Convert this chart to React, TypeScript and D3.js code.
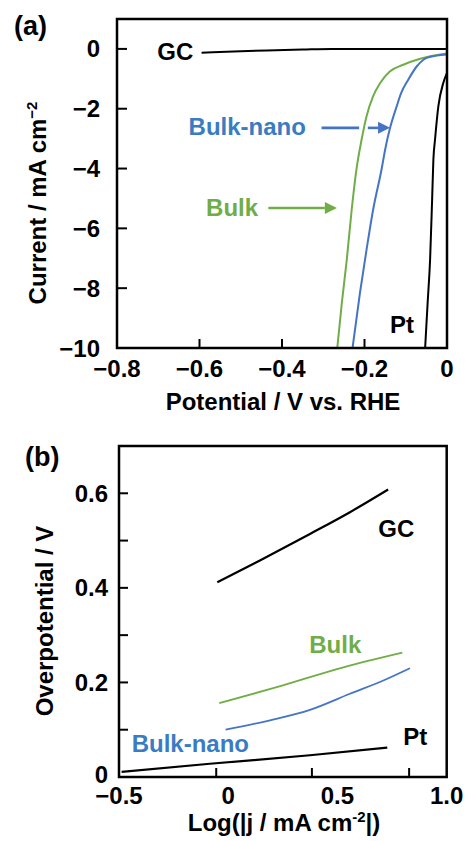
import React, { useRef, useEffect } from "react";
import * as d3 from "d3";

type P = [number, number];

// (a) LSV curves: potential (V vs. RHE), current density (mA cm-2)
const gcLsv: P[] = [
  [-0.595, -0.13], [-0.5, -0.08], [-0.437, -0.05], [-0.35, -0.02], [-0.28, 0], [0, 0],
];
const bulkLsv: P[] = [
  [-0.266, -10], [-0.255, -8.5], [-0.243, -7.05], [-0.231, -5.37], [-0.219, -3.98],
  [-0.207, -3.03], [-0.195, -2.25], [-0.179, -1.58], [-0.162, -1.14], [-0.138, -0.75],
  [-0.106, -0.53], [-0.065, -0.33], [0, -0.157],
];
const bulkNanoLsv: P[] = [
  [-0.229, -10], [-0.211, -8.16], [-0.195, -6.71], [-0.179, -5.37], [-0.158, -3.98],
  [-0.15, -3.37], [-0.138, -2.64], [-0.122, -1.92], [-0.111, -1.47], [-0.094, -1.03],
  [-0.073, -0.58], [-0.049, -0.3], [0, -0.19],
];
const ptLsv: P[] = [
  [-0.053, -10], [-0.047, -8.5], [-0.041, -7.05], [-0.036, -5.0], [-0.033, -3.7],
  [-0.029, -3.03], [-0.021, -1.92], [-0.009, -1.14], [0, -0.8],
];

// (b) Tafel lines: log|j|, overpotential (V)
const gcTafel: P[] = [[-0.05, 0.412], [0.145, 0.458], [0.374, 0.514], [0.557, 0.56], [0.732, 0.608]];
const bulkTafel: P[] = [[-0.041, 0.156], [0.222, 0.19], [0.527, 0.232], [0.797, 0.263]];
const bulkNanoTafel: P[] = [[-0.012, 0.1], [0.191, 0.12], [0.374, 0.142], [0.557, 0.176], [0.71, 0.204], [0.832, 0.23]];
const ptTafel: P[] = [[-0.488, 0.011], [-0.084, 0.028], [0.374, 0.046], [0.728, 0.062]];

const lsvXTicks = [-0.8, -0.6, -0.4, -0.2, 0];
const lsvYTicks = [0, -2, -4, -6, -8, -10];
const tafelXLabels = [-0.5, 0, 0.5, 1.0];
// in the source the x tick marks do not sit under the labels
const tafelXMarks = [-0.055, 0.383, 0.828];
const tafelYLabels = [0, 0.2, 0.4, 0.6];
const tafelYMarks = [0.1, 0.2, 0.3, 0.4, 0.5, 0.6];

const GREEN = "#70ad47";
const BLUE = "#4474c6";
const BLUE_TEXT = "#3a7cc3";
const FONT = "'Liberation Sans', Arial, sans-serif";

const App = () => {
  const ref = useRef<SVGSVGElement | null>(null);

  useEffect(() => {
    document.body.style.margin = "0";
    if (!ref.current) return;
    const svg = d3.select(ref.current);
    svg.selectAll("*").remove();

    const fmt1 = d3.format(".1f");
    const fmtInt = d3.format("d");

    const label = (
      x: number, y: number, text: string, color = "#000",
      anchor = "start", size = 24
    ) =>
      svg.append("text")
        .attr("x", x).attr("y", y)
        .attr("text-anchor", anchor)
        .style("font-family", FONT).style("font-weight", "bold")
        .style("font-size", `${size}px`).style("fill", color)
        .text(text);

    const arrow = (x1: number, x2: number, y: number, color: string, gap?: [number, number]) => {
      const head = 12;
      const segs: [number, number][] = gap ? [[x1, gap[0]], [gap[1], x2 - head]] : [[x1, x2 - head]];
      segs.forEach(([a, b]) =>
        svg.append("line").attr("x1", a).attr("x2", b).attr("y1", y).attr("y2", y)
          .attr("stroke", color).attr("stroke-width", 2.6));
      svg.append("path")
        .attr("d", `M${x2},${y}L${x2 - head},${y - 6}L${x2 - head},${y + 6}Z`)
        .attr("fill", color);
    };

    /** ---------- (a) LSV ---------- */
    const xa = d3.scaleLinear().domain([-0.8, 0]).range([117, 447]);
    const ya = d3.scaleLinear().domain([-10, 1]).range([348, 19]);
    const lineA = d3.line<P>().x((d) => xa(d[0])).y((d) => ya(d[1])).curve(d3.curveMonotoneX);

    const seriesA: [P[], string, number][] = [
      [gcLsv, "#000", 2], [bulkLsv, GREEN, 2], [bulkNanoLsv, BLUE, 2], [ptLsv, "#000", 2],
    ];
    seriesA.forEach(([data, color, w]) =>
      svg.append("path").datum(data).attr("d", lineA).attr("fill", "none")
        .attr("stroke", color).attr("stroke-width", w));

    // inward tick marks
    lsvYTicks.slice(0, -1).forEach((t) =>
      svg.append("line").attr("x1", xa(-0.8)).attr("x2", xa(-0.8) + 10)
        .attr("y1", ya(t)).attr("y2", ya(t)).attr("stroke", "#000").attr("stroke-width", 2));
    lsvXTicks.slice(1, -1).forEach((t) =>
      svg.append("line").attr("x1", xa(t)).attr("x2", xa(t))
        .attr("y1", ya(-10)).attr("y2", ya(-10) - 9).attr("stroke", "#000").attr("stroke-width", 2));

    svg.append("rect")
      .attr("x", xa(-0.8)).attr("y", ya(1))
      .attr("width", xa(0) - xa(-0.8)).attr("height", ya(-10) - ya(1))
      .attr("fill", "none").attr("stroke", "#000").attr("stroke-width", 2.5);

    lsvYTicks.forEach((t) =>
      label(100, ya(t) + 8.5, t === 0 ? "0" : fmtInt(t), "#000", "end"));
    lsvXTicks.forEach((t) =>
      label(xa(t), 377, t === 0 ? "0" : fmt1(t), "#000", "middle"));

    label(283, 410, "Potential / V vs. RHE", "#000", "middle");
    const yTitleA = svg.append("text")
      .attr("transform", `translate(46,203) rotate(-90)`)
      .attr("text-anchor", "middle")
      .style("font-family", FONT).style("font-weight", "bold")
      .style("font-size", "24px");
    yTitleA.append("tspan").text("Current / mA cm");
    yTitleA.append("tspan").attr("dy", -9).style("font-size", "15px").text("−2");

    label(14, 35, "(a)", "#000", "start", 27);
    label(xa(-0.615), ya(-0.36), "GC", "#000", "end");
    label(xa(-0.342), ya(-2.87), "Bulk-nano", BLUE_TEXT, "end");
    label(xa(-0.458), ya(-5.57), "Bulk", GREEN, "end");
    label(xa(-0.138), ya(-9.49), "Pt", "#000", "start");

    arrow(xa(-0.304), xa(-0.138), ya(-2.64), BLUE, [xa(-0.213), xa(-0.192)]);
    arrow(xa(-0.433), xa(-0.267), ya(-5.32), GREEN);

    /** ---------- (b) Tafel ---------- */
    const xb = d3.scaleLinear().domain([-0.5, 1.0]).range([119, 446.7]);
    const yb = d3.scaleLinear().domain([0, 0.7]).range([777, 446]);
    const lineB = d3.line<P>().x((d) => xb(d[0])).y((d) => yb(d[1])).curve(d3.curveMonotoneX);

    const seriesB: [P[], string, number][] = [
      [gcTafel, "#000", 2.2], [bulkTafel, GREEN, 1.8], [bulkNanoTafel, BLUE, 1.8], [ptTafel, "#000", 2.2],
    ];
    seriesB.forEach(([data, color, w]) =>
      svg.append("path").datum(data).attr("d", lineB).attr("fill", "none")
        .attr("stroke", color).attr("stroke-width", w));

    tafelYMarks.forEach((t) =>
      svg.append("line").attr("x1", xb(-0.5)).attr("x2", xb(-0.5) + 9)
        .attr("y1", yb(t)).attr("y2", yb(t)).attr("stroke", "#000").attr("stroke-width", 2));
    tafelXMarks.forEach((t) =>
      svg.append("line").attr("x1", xb(t)).attr("x2", xb(t))
        .attr("y1", yb(0)).attr("y2", yb(0) - 9).attr("stroke", "#000").attr("stroke-width", 2));

    svg.append("rect")
      .attr("x", xb(-0.5)).attr("y", yb(0.7))
      .attr("width", xb(1.0) - xb(-0.5)).attr("height", yb(0) - yb(0.7))
      .attr("fill", "none").attr("stroke", "#000").attr("stroke-width", 2.5);

    tafelYLabels.forEach((t) =>
      label(108, yb(t) + (t === 0 ? 6 : 8.5), t === 0 ? "0" : fmt1(t), "#000", "end"));
    tafelXLabels.forEach((t) =>
      label(xb(t), 804, t === 0 ? "0" : fmt1(t), "#000", "middle"));

    const xTitleB = svg.append("text")
      .attr("x", 284).attr("y", 831)
      .attr("text-anchor", "middle")
      .style("font-family", FONT).style("font-weight", "bold")
      .style("font-size", "24px");
    xTitleB.append("tspan").text("Log(|j  / mA cm");
    xTitleB.append("tspan").attr("dy", -9).style("font-size", "15px").text("-2");
    xTitleB.append("tspan").attr("dy", 9).text("|)");

    svg.append("text")
      .attr("transform", `translate(53,621) rotate(-90)`)
      .attr("text-anchor", "middle")
      .style("font-family", FONT).style("font-weight", "bold")
      .style("font-size", "24px")
      .text("Overpotential / V");

    label(25, 466, "(b)", "#000", "start", 27);
    label(xb(0.687), yb(0.507), "GC", "#000");
    label(xb(0.371), yb(0.263), "Bulk", GREEN);
    label(xb(-0.442), yb(0.053), "Bulk-nano", BLUE_TEXT);
    label(xb(0.801), yb(0.067), "Pt", "#000");
  }, []);

  return (
    <svg
      ref={ref}
      width={468}
      height={841}
      style={{ display: "block", background: "#fff" }}
    ></svg>
  );
};

export default App;
